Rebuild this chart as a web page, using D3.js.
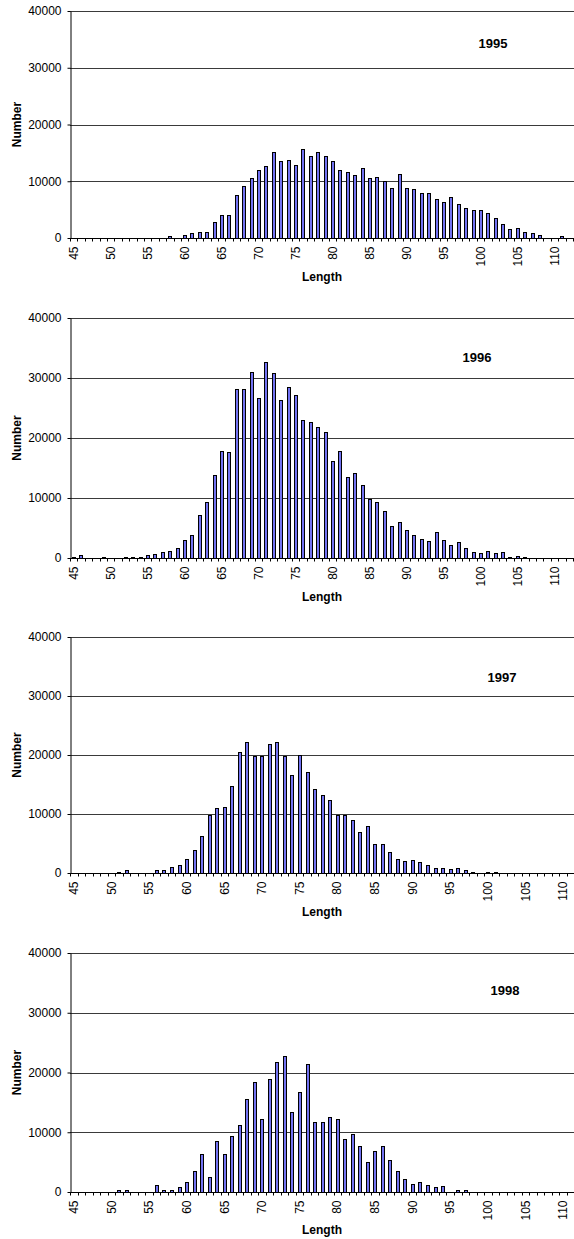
<!DOCTYPE html>
<html>
<head>
<meta charset="utf-8">
<script src="https://cdn.jsdelivr.net/npm/d3@7"></script>
<style>
  html, body { margin: 0; padding: 0; background: #fff; }
  svg { display: block; }
  text { font-family: "Liberation Sans", Arial, sans-serif; fill: #000; }
</style>
</head>
<body>
<svg id="chart" width="574" height="1239"></svg>
<script>
const lengths = [45,46,47,48,49,50,51,52,53,54,55,56,57,58,59,60,61,62,63,64,65,66,67,68,69,70,71,72,73,74,75,76,77,78,79,80,81,82,83,84,85,86,87,88,89,90,91,92,93,94,95,96,97,98,99,100,101,102,103,104,105,106,107,108,109,110,111,112];
const lengthTickLabels = [45,50,55,60,65,70,75,80,85,90,95,100,105,110];
const yTickValues = [0,10000,20000,30000,40000];
const years = ["1995","1996","1997","1998"];

const counts1995 = [0,0,0,0,0, 0,0,0,0,0, 0,0,0,300,0, 500,800,1050,1050,2750, 4000,4050,7550,9250,10650, 12050,12750,15200,13500,13700, 12900,15700,14500,15200,14500, 13500,12050,11700,11050,12300, 10500,10700,10050,8750,11300, 8750,8550,7850,8000,6800, 6300,7200,5950,5200,4950, 4950,4350,3500,2500,1500, 1700,1050,800,450,0, 0,300,0];
const counts1996 = [220,450,0,0,220, 0,0,220,220,220, 450,670,950,1230,1620, 2960,3800,7200,9400,13850, 17900,17600,28100,28100,31050, 26750,32600,30800,26400,28550, 27150,23050,22600,21900,20950, 16250,17800,13500,14100,12200, 9850,9350,7900,5300,6000, 4750,3800,3150,2850,4300, 2950,2200,2650,1600,1000, 800,1250,800,1000,220, 400,220,0,0,0, 0,0,0];
const counts1997 = [0,0,0,0,0, 0,230,450,0,0, 0,450,450,970,1420, 2400,3900,6300,9750,11000, 11250,14700,20500,22250,19750, 19750,21800,22250,19750,16600, 20050,17150,14200,13200,12450, 9750,9750,9050,6900,7900, 4950,4950,3600,2400,2000, 2200,1900,1400,850,850, 700,850,450,230,0, 230,230,0,0,0, 0,0,0,0,0, 0,0,0];
const counts1998 = [0,0,0,0,0, 0,400,400,0,0, 0,1250,400,400,800, 1750,3550,6350,2550,8550, 6350,9450,11250,15550,18450, 12150,18850,21800,22800,13400, 16800,21400,11750,11750,12600, 12200,8800,9750,7650,4950, 6900,7650,5350,3550,2200, 1350,1600,1250,800,1000, 0,280,280,0,0, 0,0,0,0,0, 0,0,0,0,0, 0,0,0];

const seriesByYear = [counts1995, counts1996, counts1997, counts1998];

// layout per panel (pixels)
const panels = [
  { top: 11,  bottom: 238,  width: 503, yearX: 493, yearY: 43,  titleY: 277 },
  { top: 318, bottom: 558,  width: 503, yearX: 477, yearY: 357, titleY: 597 },
  { top: 637, bottom: 873,  width: 512, yearX: 502, yearY: 677, titleY: 912 },
  { top: 953, bottom: 1192, width: 512, yearX: 505, yearY: 990, titleY: 1230 }
];
const left = 70;
const barFill = "#7272f2";
const fontFam = '"Liberation Sans", Arial, sans-serif';

const svg = d3.select("#chart");

panels.forEach((p, i) => {
  const data = lengths.map((L, j) => ({ len: L, val: seriesByYear[i][j] }));
  const x = d3.scaleBand().domain(lengths).range([left, left + p.width])
    .paddingInner(0.56).paddingOuter(0.28);
  const y = d3.scaleLinear().domain([0, 40000]).range([p.bottom, p.top]);
  const g = svg.append("g");

  // gridlines
  g.append("g").selectAll("line").data(yTickValues.filter(v => v > 0)).join("line")
    .attr("x1", left).attr("x2", 574)
    .attr("y1", d => Math.round(y(d)) + 0.5).attr("y2", d => Math.round(y(d)) + 0.5)
    .attr("stroke", "#3a3a3a").attr("stroke-width", 1);

  // bars
  g.append("g").selectAll("rect").data(data.filter(d => d.val > 0)).join("rect")
    .attr("x", d => Math.round(x(d.len)) + 0.5)
    .attr("width", Math.max(1, Math.round(x.bandwidth())))
    .attr("y", d => Math.round(y(d.val)) + 0.5)
    .attr("height", d => Math.max(0, Math.round(y(0)) - Math.round(y(d.val))))
    .attr("fill", barFill).attr("stroke", "#000").attr("stroke-width", 1);

  // y axis
  const yAxis = d3.axisLeft(y).tickValues(yTickValues).tickSize(3).tickSizeOuter(0)
    .tickFormat(d3.format("d")).tickPadding(6);
  const ya = g.append("g").attr("transform", `translate(${left + 0.5},0)`).call(yAxis);
  ya.select(".domain").attr("stroke", "#000");
  ya.selectAll(".tick line").attr("stroke", "#000");
  ya.selectAll("text").style("font-size", "12px").style("font-family", fontFam);

  // x axis line
  const y0 = Math.round(y(0)) + 0.5;
  g.append("line").attr("x1", left).attr("x2", 574).attr("y1", y0).attr("y2", y0)
    .attr("stroke", "#000");
  // category boundary ticks
  const step = x.step();
  const bounds = d3.range(lengths.length + 1).map(k => left + k * step);
  g.append("g").selectAll("line").data(bounds).join("line")
    .attr("x1", d => Math.round(d) + 0.5).attr("x2", d => Math.round(d) + 0.5)
    .attr("y1", y0).attr("y2", y0 + 3).attr("stroke", "#000");

  // x labels (rotated) via axis
  const xAxis = d3.axisBottom(x).tickValues(lengthTickLabels).tickSize(0).tickPadding(0);
  const xa = g.append("g").attr("transform", `translate(0,${y0})`).call(xAxis);
  xa.select(".domain").remove();
  xa.selectAll("text")
    .attr("transform", "rotate(-90)")
    .attr("x", -8).attr("y", 0).attr("dy", "0.35em")
    .attr("text-anchor", "end")
    .style("font-size", "12px").style("font-family", fontFam);

  // axis titles
  g.append("text").attr("x", 322).attr("y", p.titleY)
    .attr("text-anchor", "middle").attr("dy", "0.35em")
    .style("font-size", "12px").style("font-weight", "bold").text("Length");
  g.append("text").attr("transform", `translate(17,${(p.top + p.bottom) / 2}) rotate(-90)`)
    .attr("text-anchor", "middle").attr("dy", "0.35em")
    .style("font-size", "12px").style("font-weight", "bold").text("Number");
  // year label
  g.append("text").attr("x", p.yearX).attr("y", p.yearY).attr("dy", "0.35em")
    .attr("text-anchor", "middle")
    .style("font-size", "13px").style("font-weight", "bold").text(years[i]);
});
</script>
</body>
</html>
